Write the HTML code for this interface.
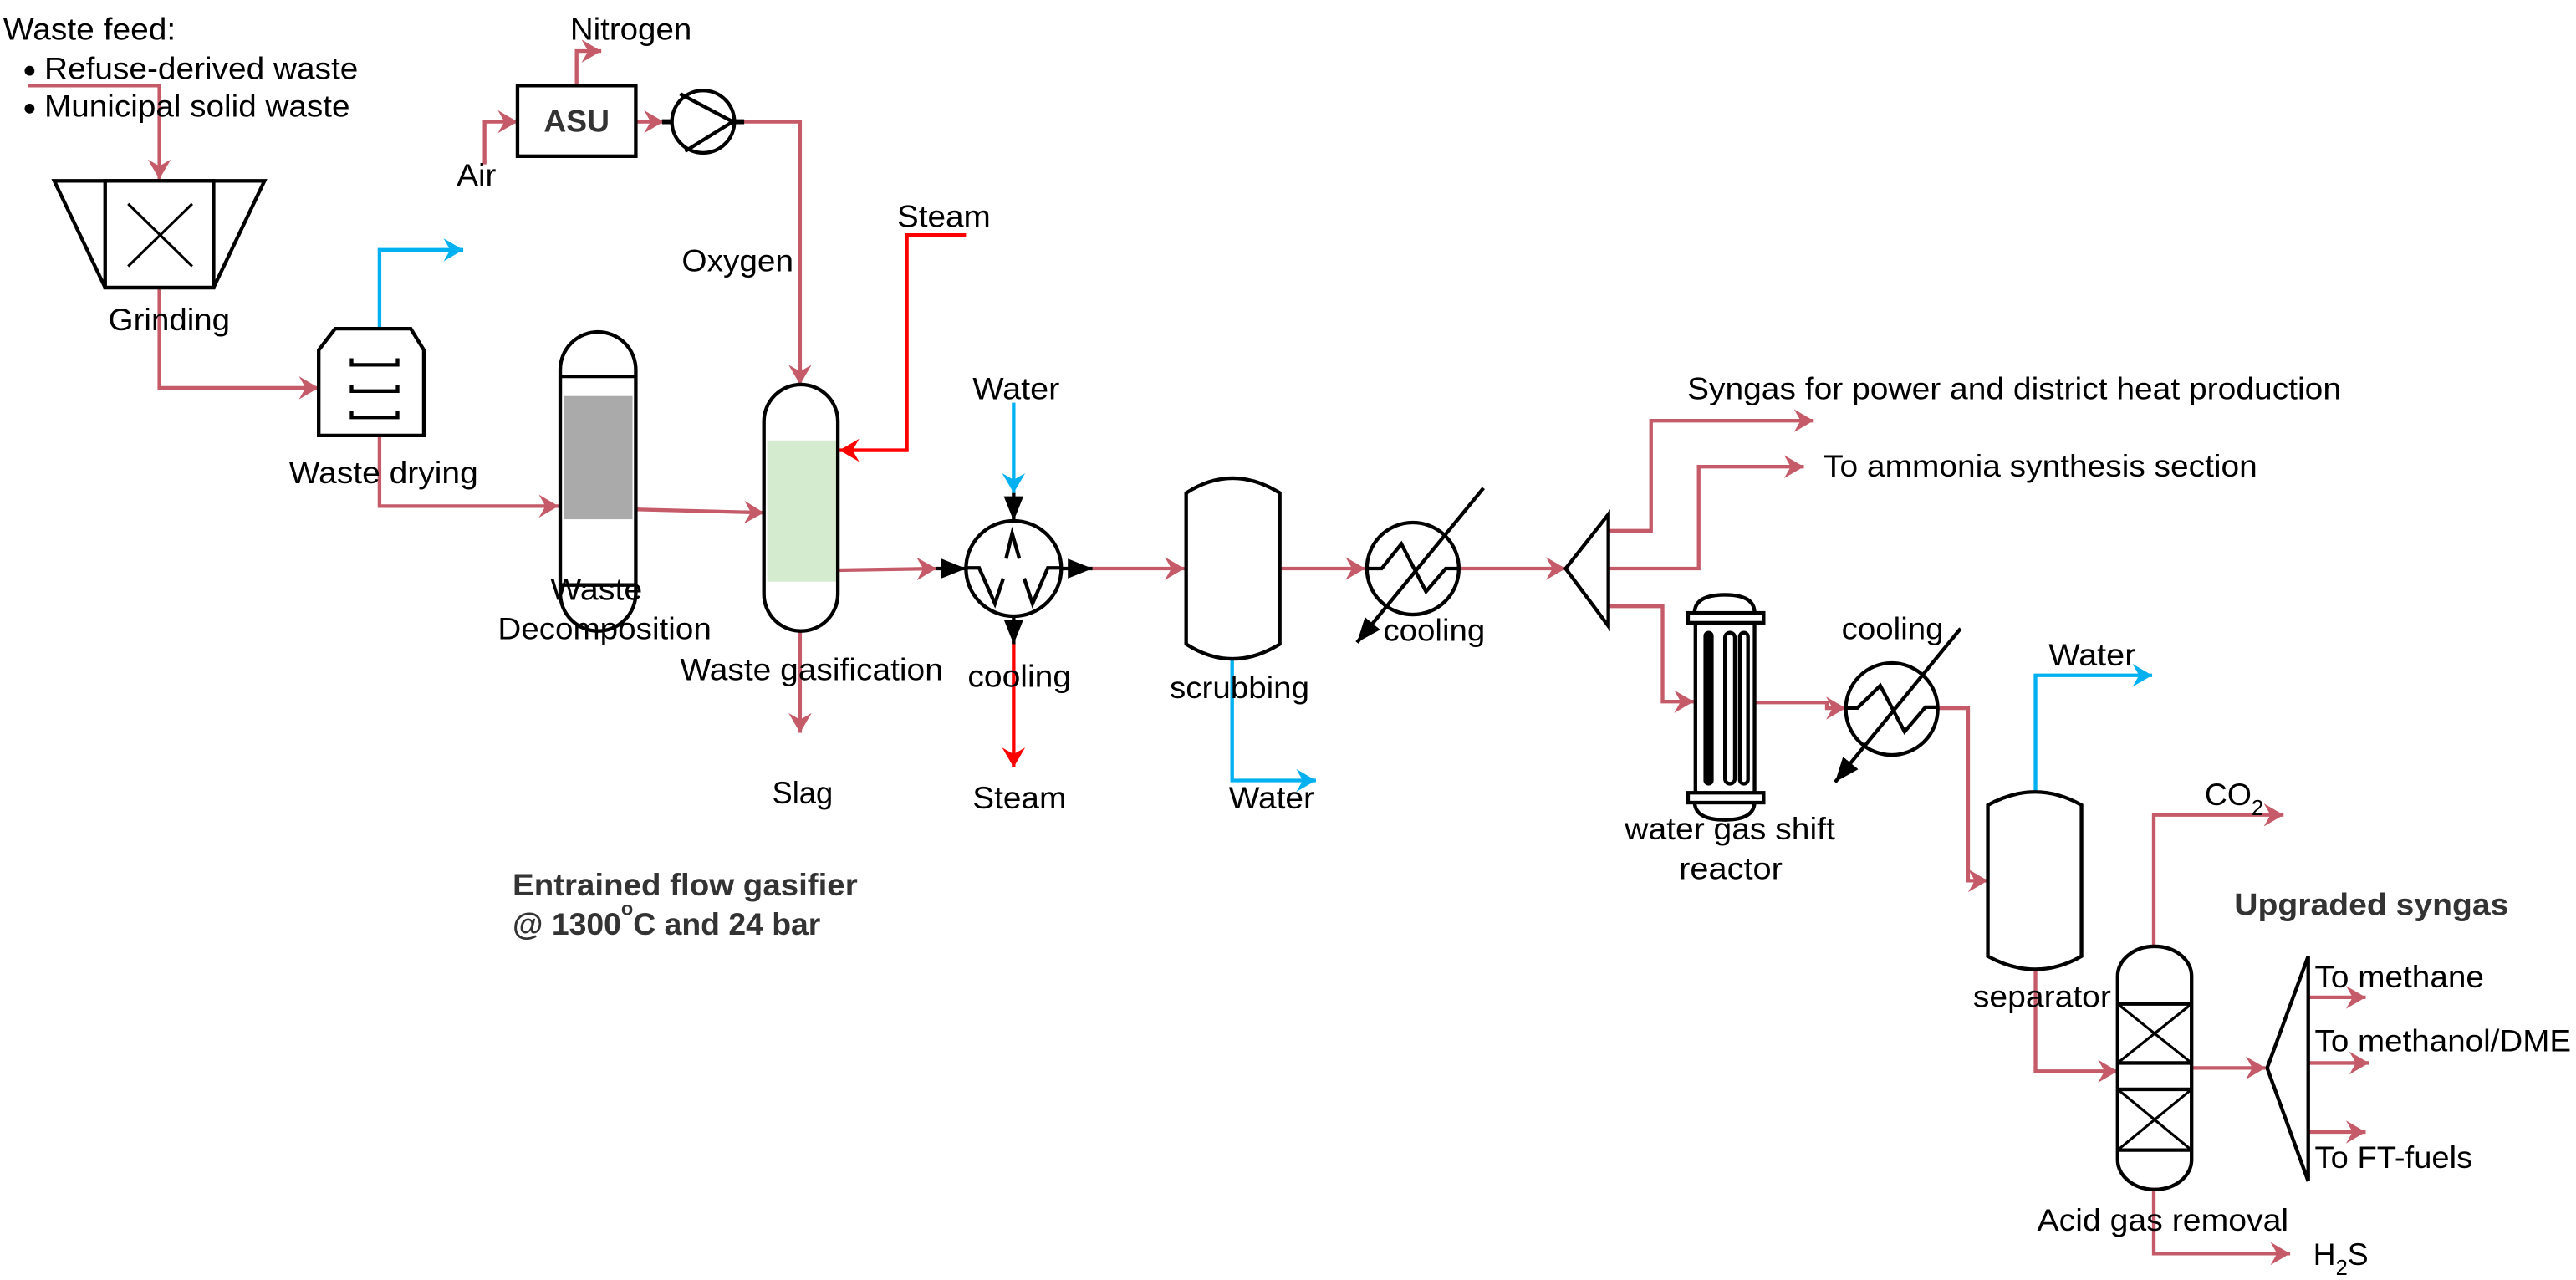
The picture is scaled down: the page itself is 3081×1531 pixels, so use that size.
<!DOCTYPE html>
<html><head><meta charset="utf-8"><style>
html,body{margin:0;padding:0;background:#fff;}
svg{display:block;}
text{font-family:"Liberation Sans",Arial,sans-serif;font-size:19px;fill:#000;}
.b{font-weight:bold;fill:#333;}
</style></head><body>
<svg width="3081" height="1531" viewBox="0 0 1568 779" xmlns="http://www.w3.org/2000/svg">
<defs>
<marker id="ap" markerUnits="userSpaceOnUse" markerWidth="14" markerHeight="14" refX="12" refY="7" orient="auto"><path d="M0,0 L12,7 L0,14 L4,7 z" fill="#c55a68"/></marker>
<marker id="ab" markerUnits="userSpaceOnUse" markerWidth="14" markerHeight="14" refX="12" refY="7" orient="auto"><path d="M0,0 L12,7 L0,14 L4,7 z" fill="#00b0f0"/></marker>
<marker id="ar" markerUnits="userSpaceOnUse" markerWidth="14" markerHeight="14" refX="12" refY="7" orient="auto"><path d="M0,0 L12,7 L0,14 L4,7 z" fill="#ff0000"/></marker>
<marker id="ak" markerUnits="userSpaceOnUse" markerWidth="16" markerHeight="14" refX="15" refY="7" orient="auto"><path d="M0,1 L15,7 L0,13 z" fill="#000"/></marker>
</defs>

<g fill="none" stroke="#c55a68" stroke-width="2.2">
<path d="M17,52 H97 V109" marker-end="url(#ap)"/>
<path d="M97,175 V236 H194" marker-end="url(#ap)"/>
<path d="M231,265 V308 H340" marker-end="url(#ap)"/>
<path d="M387,310 L465,312" marker-end="url(#ap)"/>
<path d="M351,52 V31 H366" marker-end="url(#ap)"/>
<path d="M295,100 V74 H315" marker-end="url(#ap)"/>
<path d="M387,74 H404" marker-end="url(#ap)"/>
<path d="M446,74 H487 V234" marker-end="url(#ap)"/>
<path d="M487,384 V446" marker-end="url(#ap)"/>
<path d="M510,347 L570,346" marker-end="url(#ap)"/>
<path d="M665,346 H721" marker-end="url(#ap)"/>
<path d="M779,346 H831" marker-end="url(#ap)"/>
<path d="M887,346 H953" marker-end="url(#ap)"/>
<path d="M979,323 H1005 V256 H1104" marker-end="url(#ap)"/>
<path d="M979,346 H1034 V284 H1098" marker-end="url(#ap)"/>
<path d="M979,369 H1012 V427 H1031" marker-end="url(#ap)"/>
<path d="M1069,427.5 H1112 V431 H1123.5" marker-end="url(#ap)"/>
<path d="M1180,431 H1198 V536 H1210" marker-end="url(#ap)"/>
<path d="M1239,590 V652 H1289" marker-end="url(#ap)"/>
<path d="M1311,576 V496 H1390" marker-end="url(#ap)"/>
<path d="M1311,724 V763 H1394" marker-end="url(#ap)"/>
<path d="M1334,650 H1379" marker-end="url(#ap)"/>
<path d="M1405,607 H1440" marker-end="url(#ap)"/>
<path d="M1405,647 H1442" marker-end="url(#ap)"/>
<path d="M1405,689 H1440" marker-end="url(#ap)"/>
</g>
<g fill="none" stroke="#00b0f0" stroke-width="2.2">
<path d="M231,200 V152 H282" marker-end="url(#ab)"/>
<path d="M617,245 V300" marker-end="url(#ab)"/>
<path d="M750,400 V475 H801" marker-end="url(#ab)"/>
<path d="M1239,482 V411 H1310" marker-end="url(#ab)"/>
</g>
<g fill="none" stroke="#ff0000" stroke-width="2.2">
<path d="M588,143 H552 V274 H511" marker-end="url(#ar)"/>
<path d="M617,390 V467" marker-end="url(#ar)"/>
</g>

<g fill="none" stroke="#000" stroke-width="2.2">
<path d="M33,110 H161 L130,175 H64 Z"/>
<rect x="64" y="110" width="66" height="65"/>
<path d="M78,124 L117,162 M117,124 L78,162" stroke-width="1.6"/>
<path d="M204,200 H250 L258,213 V265 H194 V213 Z"/>
<path d="M214,218 V222 H242 V218 M214,234 V238 H242 V234 M214,250 V254 H242 V250"/>
<rect x="341" y="202" width="46" height="182" rx="23" ry="23"/>
<path d="M341,229 H387 M341,356 H387"/>
<rect x="467" y="268" width="42" height="86" fill="#d5ebd0" stroke="none"/>
<rect x="465" y="234" width="45" height="150" rx="22.5" ry="22.5"/>
<rect x="315" y="52" width="72" height="43"/>
<circle cx="428" cy="74" r="19"/>
<path d="M414,57 L446,74 L417,92"/>
<path d="M403,74 H409 M447,74 H453" stroke-width="3"/>
<circle cx="617" cy="346" r="29"/>
<path d="M588,345.6 H596 L605.6,367.3 L610.7,352 M623.4,352 L628.5,367.3 L637.8,345.6 H646"/>
<path d="M612.4,340 L616.1,324.7 L620.5,340"/>
<path d="M722,300 Q750,282 779,300 V392 Q750,410 722,392 Z"/>
<circle cx="860" cy="346" r="28"/>
<path d="M832,346 H841 L853,331 L868,360 L880,346 H888"/>
<line x1="903" y1="297" x2="826" y2="391" marker-end="url(#ak)"/>
<path d="M979,313 V381 L953,346 Z"/>
<path d="M1031.5,373 Q1031.5,362 1050,362 Q1068,362 1068,373"/>
<path d="M1031.5,488 Q1031.5,499 1050,499 Q1068,499 1068,488"/>
<rect x="1027.5" y="373" width="46" height="6"/>
<rect x="1027.5" y="482.5" width="46" height="6"/>
<path d="M1032,379 V482.5 M1068,379 V482.5"/>
<rect x="1038" y="385" width="4" height="92" rx="2" fill="#000"/>
<rect x="1050" y="385" width="6" height="92" rx="3"/>
<rect x="1059" y="385" width="5" height="92" rx="2.5"/>
<circle cx="1151.5" cy="431.5" r="28"/>
<path d="M1123.7,430.9 H1130.6 L1144.5,417.3 L1159.3,445.3 L1172,430.4 H1180"/>
<line x1="1193.4" y1="382.5" x2="1117" y2="476" marker-end="url(#ak)"/>
<path d="M1210,490 Q1239,474 1267,490 V582 Q1239,598 1210,582 Z"/>
<rect x="1289" y="576" width="45" height="148" rx="22.5" ry="18"/>
<path d="M1289,611 H1334 M1289,647 H1334 M1289,663 H1334 M1289,700 H1334"/>
<path d="M1289,611 L1334,647 M1334,611 L1289,647 M1289,663 L1334,700 M1334,663 L1289,700" stroke-width="1.6"/>
<path d="M1405,582 V719 M1405,582 L1380,650 L1405,719"/>
</g>
<rect x="343" y="241" width="42" height="75" fill="#aaaaaa"/>
<g stroke="#000" stroke-width="2.2" fill="none">
<line x1="570" y1="346" x2="588" y2="346" marker-end="url(#ak)"/>
<line x1="646" y1="346" x2="665" y2="346" marker-end="url(#ak)"/>
<line x1="617" y1="300" x2="617" y2="317" marker-end="url(#ak)"/>
<line x1="617" y1="375" x2="617" y2="392" marker-end="url(#ak)"/>
</g>
<circle cx="18" cy="43" r="3" fill="#000"/>
<circle cx="18" cy="66" r="3" fill="#000"/>

<text x="2" y="24" textLength="105" lengthAdjust="spacingAndGlyphs">Waste feed:</text>
<text x="27" y="48" textLength="191" lengthAdjust="spacingAndGlyphs">Refuse-derived waste</text>
<text x="27" y="71" textLength="186" lengthAdjust="spacingAndGlyphs">Municipal solid waste</text>
<text x="347" y="24" textLength="74" lengthAdjust="spacingAndGlyphs">Nitrogen</text>
<text class="b" x="331" y="80" textLength="40" lengthAdjust="spacingAndGlyphs">ASU</text>
<text x="278" y="113" textLength="24" lengthAdjust="spacingAndGlyphs">Air</text>
<text x="66" y="201" textLength="74" lengthAdjust="spacingAndGlyphs">Grinding</text>
<text x="415" y="165" textLength="68" lengthAdjust="spacingAndGlyphs">Oxygen</text>
<text x="546" y="138" textLength="57" lengthAdjust="spacingAndGlyphs">Steam</text>
<text x="176" y="294" textLength="115" lengthAdjust="spacingAndGlyphs">Waste drying</text>
<text x="335" y="365" textLength="56" lengthAdjust="spacingAndGlyphs">Waste</text>
<text x="303" y="389" textLength="130" lengthAdjust="spacingAndGlyphs">Decomposition</text>
<text x="414" y="414" textLength="160" lengthAdjust="spacingAndGlyphs">Waste gasification</text>
<text x="470" y="489" textLength="37" lengthAdjust="spacingAndGlyphs">Slag</text>
<text x="592" y="243" textLength="53" lengthAdjust="spacingAndGlyphs">Water</text>
<text x="589" y="418" textLength="63" lengthAdjust="spacingAndGlyphs">cooling</text>
<text x="592" y="492" textLength="57" lengthAdjust="spacingAndGlyphs">Steam</text>
<text x="712" y="425" textLength="85" lengthAdjust="spacingAndGlyphs">scrubbing</text>
<text x="748" y="492" textLength="52" lengthAdjust="spacingAndGlyphs">Water</text>
<text x="842" y="390" textLength="62" lengthAdjust="spacingAndGlyphs">cooling</text>
<text x="1027" y="243" textLength="398" lengthAdjust="spacingAndGlyphs">Syngas for power and district heat production</text>
<text x="1110" y="290" textLength="264" lengthAdjust="spacingAndGlyphs">To ammonia synthesis section</text>
<text x="1121" y="389" textLength="62" lengthAdjust="spacingAndGlyphs">cooling</text>
<text x="1247" y="405" textLength="53" lengthAdjust="spacingAndGlyphs">Water</text>
<text x="989" y="511" textLength="128" lengthAdjust="spacingAndGlyphs">water gas shift</text>
<text x="1022" y="535" textLength="63" lengthAdjust="spacingAndGlyphs">reactor</text>
<text x="1342" y="490">CO<tspan font-size="13" dy="6">2</tspan></text>
<text class="b" x="1360" y="557" textLength="167" lengthAdjust="spacingAndGlyphs">Upgraded syngas</text>
<text x="1201" y="613" textLength="84" lengthAdjust="spacingAndGlyphs">separator</text>
<text x="1409" y="601" textLength="103" lengthAdjust="spacingAndGlyphs">To methane</text>
<text x="1409" y="640" textLength="156" lengthAdjust="spacingAndGlyphs">To methanol/DME</text>
<text x="1409" y="711" textLength="96" lengthAdjust="spacingAndGlyphs">To FT-fuels</text>
<text x="1240" y="749" textLength="153" lengthAdjust="spacingAndGlyphs">Acid gas removal</text>
<text x="1408" y="770">H<tspan font-size="13" dy="6">2</tspan><tspan dy="-6">S</tspan></text>
<text class="b" x="312" y="545" textLength="210" lengthAdjust="spacingAndGlyphs">Entrained flow gasifier</text>
<text class="b" x="312" y="569">@ 1300<tspan font-size="12" dy="-12">o</tspan><tspan dy="12">C and 24 bar</tspan></text>
</svg>
</body></html>
